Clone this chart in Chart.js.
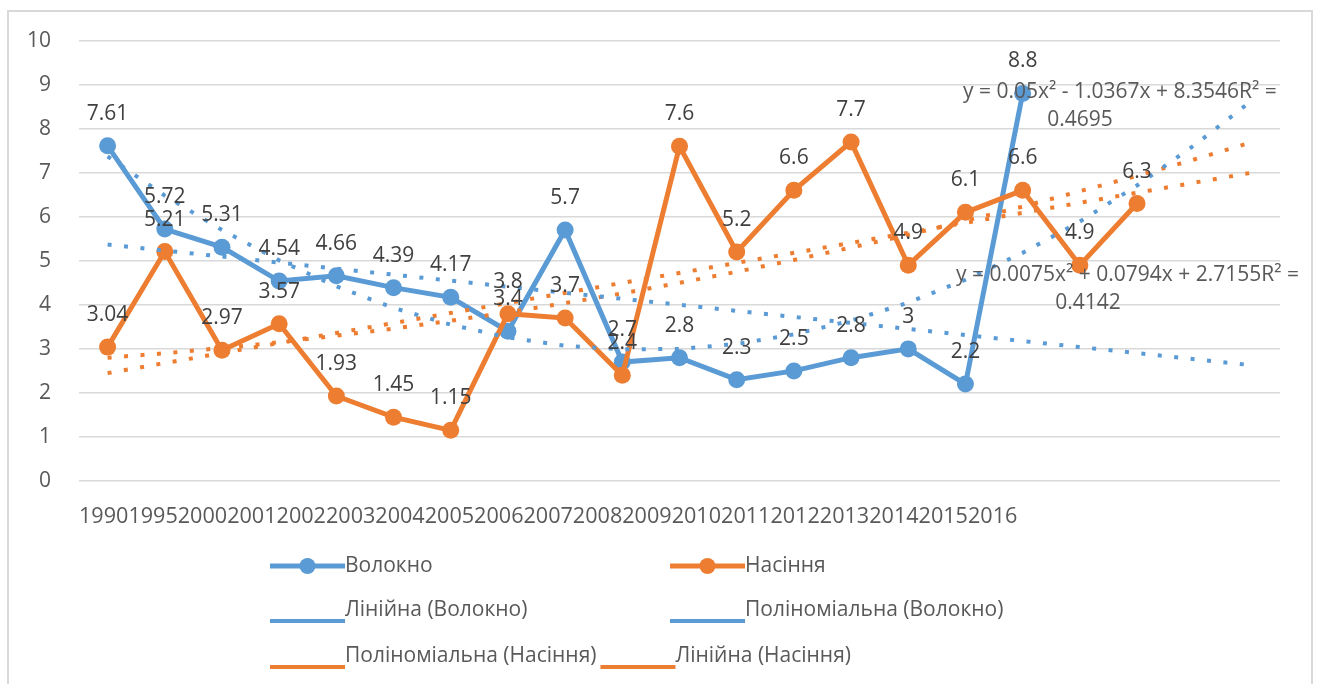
<!DOCTYPE html>
<html>
<head>
<meta charset="utf-8">
<script src="https://cdn.jsdelivr.net/npm/chart.js@4.4.1/dist/chart.umd.min.js"></script>
<style>
  html, body { margin: 0; padding: 0; background: #fff; }
  #wrap { position: relative; width: 1318px; height: 684px; overflow: hidden; }
  #frame { position: absolute; left: 7px; top: 10px; width: 1302px; height: 700px; border: 2px solid #d9d9d9; }
  canvas { position: absolute; left: 0; top: 0; }
</style>
</head>
<body>
<div id="wrap">
  <div id="frame"></div>
  <canvas id="flax-chart" width="1318" height="684"></canvas>
</div>
<script>
// categories (two extra slots at the end: the trendlines run 2 periods forward)
const years = ['1990', '1995', '2000', '2001', '2002', '2003', '2004', '2005', '2006', '2007',
               '2008', '2009', '2010', '2011', '2012', '2013', '2014', '2015', '2016'];
const forecastSlots = ['', ' '];

// series
const fibre = [7.61, 5.72, 5.31, 4.54, 4.66, 4.39, 4.17, 3.4, 5.7, 2.7, 2.8, 2.3, 2.5, 2.8, 3, 2.2, 8.8];
const seeds = [3.04, 5.21, 2.97, 3.57, 1.93, 1.45, 1.15, 3.8, 3.7, 2.4, 7.6, 5.2, 6.6, 7.7, 4.9, 6.1, 6.6, 4.9, 6.3];

// trendlines (linear: end points only)
const fibreLinear = [5.37, null, null, null, null, null, null, null, null, null,
                     null, null, null, null, null, null, null, null, null, null, 2.63];
const fibrePoly = [7.37, 6.48, 5.70, 5.01, 4.42, 3.93, 3.55, 3.26, 3.07, 2.99, 3.00,
                   3.11, 3.33, 3.64, 4.05, 4.57, 5.18, 5.89, 6.71, 7.62, 8.63];
const seedsPoly = [2.80, 2.90, 3.02, 3.15, 3.30, 3.46, 3.64, 3.83, 4.04, 4.26, 4.50,
                   4.75, 5.02, 5.30, 5.59, 5.91, 6.23, 6.58, 6.93, 7.30, 7.69];
const seedsLinear = [2.45, null, null, null, null, null, null, null, null, null,
                     null, null, null, null, null, null, null, null, null, null, 7.0];

const fibreEquation = ['y = 0.05x² - 1.0367x + 8.3546R² =', '0.4695'];
const seedsEquation = ['y = 0.0075x² + 0.0794x + 2.7155R² =', '0.4142'];

const BLUE = '#5b9bd5';
const ORANGE = '#ed7d31';
const GREY_TEXT = '#595959';
const FONT = '"Open Sans", "Liberation Sans", sans-serif';

// value labels above the points of the two main series
const pointLabels = {
  id: 'pointLabels',
  afterDatasetsDraw(chart) {
    const ctx = chart.ctx;
    ctx.save();
    ctx.font = '21px ' + FONT;
    ctx.fillStyle = '#404040';
    ctx.textAlign = 'center';
    ctx.textBaseline = 'middle';
    chart.data.datasets.forEach((ds, i) => {
      if (!ds.showValues) return;
      chart.getDatasetMeta(i).data.forEach((pt, j) => {
        const v = ds.data[j];
        if (v === null || v === undefined) return;
        ctx.fillText(String(v), pt.x, pt.y - 32);
      });
    });
    ctx.restore();
  }
};

// trendline equations, as Excel puts them
const equationLabels = {
  id: 'equationLabels',
  afterDraw(chart) {
    const ctx = chart.ctx;
    ctx.save();
    ctx.font = '21px ' + FONT;
    ctx.fillStyle = GREY_TEXT;
    ctx.textBaseline = 'middle';
    ctx.textAlign = 'left';
    ctx.fillText(fibreEquation[0], 963, 92);
    ctx.fillText(seedsEquation[0], 956, 275);
    ctx.textAlign = 'center';
    ctx.fillText(fibreEquation[1], 1080, 120);
    ctx.fillText(seedsEquation[1], 1088, 303);
    ctx.restore();
  }
};

// legend in rows of two; null slot = follow right after the previous text
const legendSlots = [[270, 566], [670, 566], [270, 610], [670, 610], [270, 656], [null, 656]];
const bottomLegend = {
  id: 'bottomLegend',
  afterDraw(chart) {
    const ctx = chart.ctx;
    const sample = 75;
    ctx.save();
    ctx.font = '21px ' + FONT;
    ctx.textBaseline = 'middle';
    ctx.textAlign = 'left';
    let prevEnd = 0;
    chart.data.datasets.forEach((ds, i) => {
      const y = legendSlots[i][1];
      const x = legendSlots[i][0] === null ? prevEnd + 4 : legendSlots[i][0];
      ctx.strokeStyle = ds.borderColor;
      ctx.setLineDash([]);
      if (ds.showValues) {
        ctx.lineWidth = 5;
        ctx.beginPath();
        ctx.moveTo(x, y);
        ctx.lineTo(x + sample, y);
        ctx.stroke();
        ctx.fillStyle = ds.borderColor;
        ctx.beginPath();
        ctx.arc(x + sample / 2, y, 8, 0, Math.PI * 2);
        ctx.fill();
      } else {
        ctx.lineWidth = 4;
        ctx.beginPath();
        ctx.moveTo(x, y + 11);
        ctx.lineTo(x + sample, y + 11);
        ctx.stroke();
      }
      ctx.fillStyle = GREY_TEXT;
      ctx.fillText(ds.label, x + sample, y);
      prevEnd = x + sample + ctx.measureText(ds.label).width;
    });
    ctx.restore();
  }
};

const trendStyle = {
  borderWidth: 4,
  borderDash: [4, 12.5],
  pointRadius: 0,
  spanGaps: true,
  tension: 0,
  fill: false,
  order: 1
};

const ctx = document.getElementById('flax-chart').getContext('2d');
new Chart(ctx, {
  type: 'line',
  data: {
    labels: years.concat(forecastSlots),
    datasets: [
      {
        label: 'Волокно',
        data: fibre,
        borderColor: BLUE,
        backgroundColor: BLUE,
        borderWidth: 5,
        pointRadius: 8.5,
        pointBorderWidth: 0,
        tension: 0,
        showValues: true,
        order: 3
      },
      {
        label: 'Насіння',
        data: seeds,
        borderColor: ORANGE,
        backgroundColor: ORANGE,
        borderWidth: 5,
        pointRadius: 8.5,
        pointBorderWidth: 0,
        tension: 0,
        showValues: true,
        order: 2
      },
      Object.assign({ label: 'Лінійна (Волокно)', data: fibreLinear, borderColor: BLUE }, trendStyle),
      Object.assign({ label: 'Поліноміальна (Волокно)', data: fibrePoly, borderColor: BLUE }, trendStyle),
      Object.assign({ label: 'Поліноміальна (Насіння)', data: seedsPoly, borderColor: ORANGE }, trendStyle),
      Object.assign({ label: 'Лінійна (Насіння)', data: seedsLinear, borderColor: ORANGE }, trendStyle)
    ]
  },
  options: {
    responsive: false,
    animation: false,
    layout: {
      padding: { top: 40, right: 38, left: 0, bottom: 0 }
    },
    plugins: {
      legend: { display: false },
      tooltip: { enabled: false }
    },
    scales: {
      x: {
        offset: true,
        grid: { display: false },
        border: { display: false },
        ticks: { display: false },
        title: {
          display: true,
          text: years.join(''),
          align: 'start',
          color: GREY_TEXT,
          font: { family: FONT, size: 21.6 },
          padding: { top: 0, bottom: 154 }
        },
        afterFit(scale) { scale.height = 203; }
      },
      y: {
        min: 0,
        max: 10,
        ticks: {
          stepSize: 1,
          padding: 28,
          color: GREY_TEXT,
          font: { family: FONT, size: 21 }
        },
        grid: { color: '#d9d9d9', lineWidth: 1.5, drawTicks: false },
        border: { display: false },
        afterFit(scale) { scale.width = 79; }
      }
    }
  },
  plugins: [pointLabels, equationLabels, bottomLegend]
});
</script>
</body>
</html>
